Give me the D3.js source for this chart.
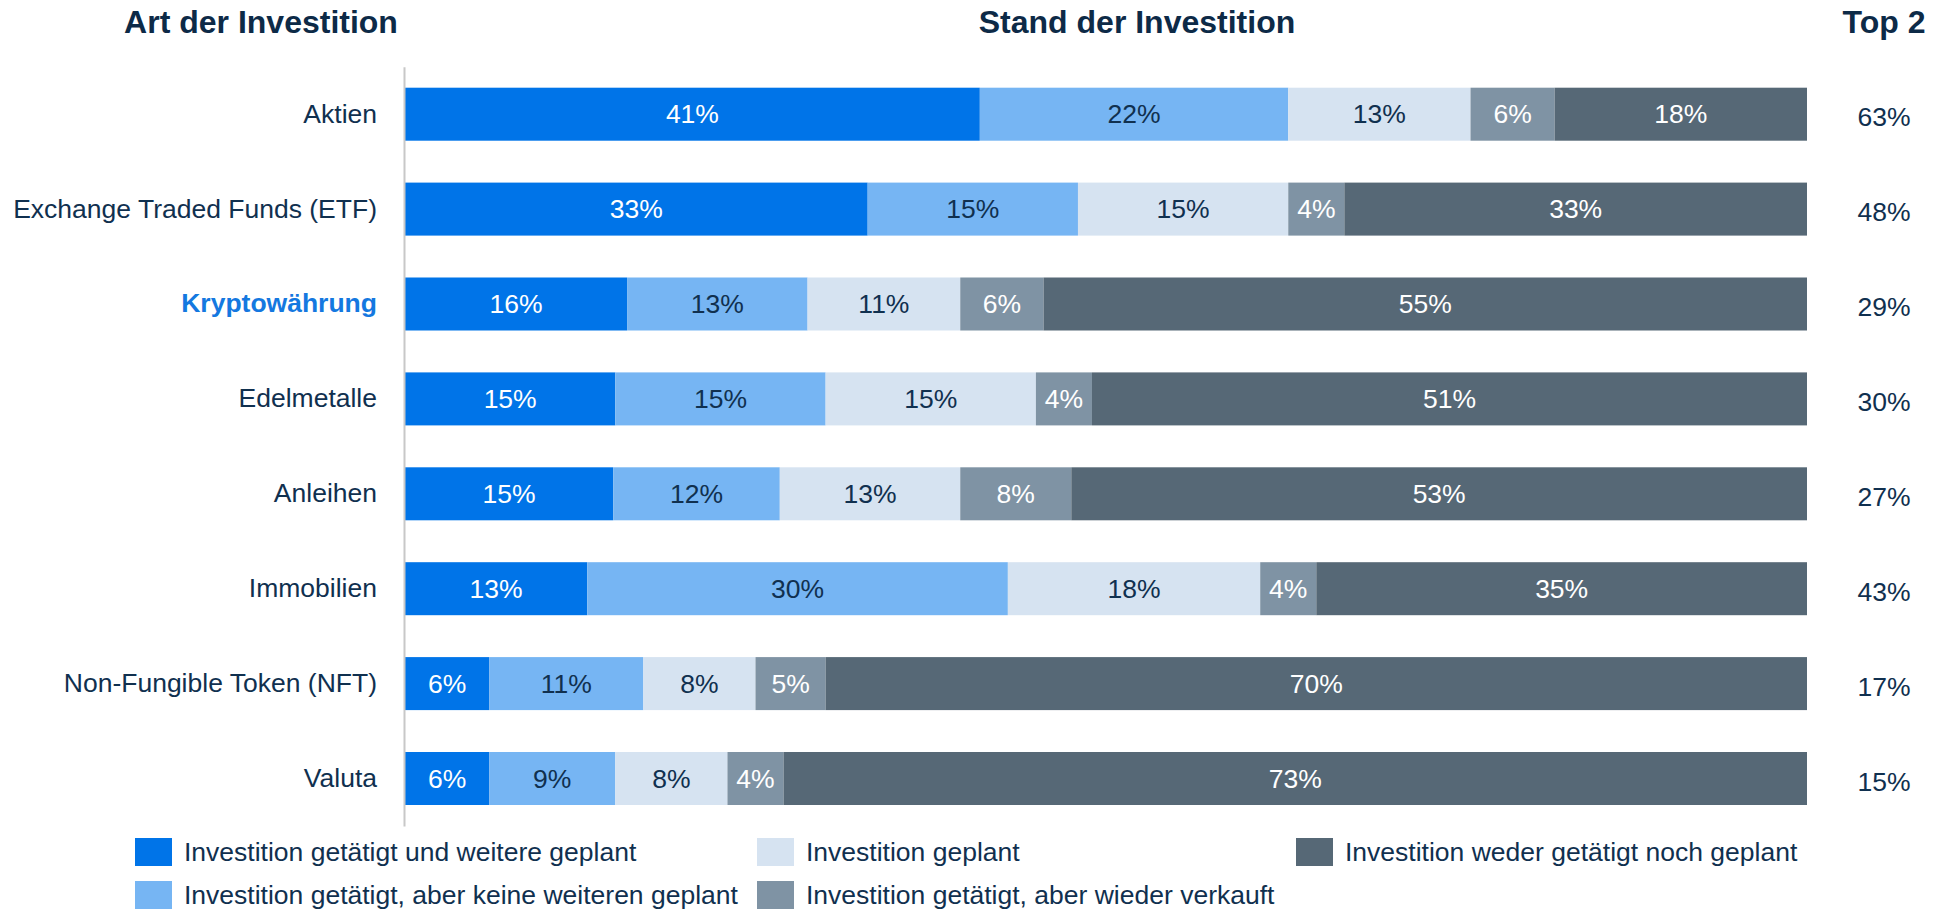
<!DOCTYPE html>
<html>
<head>
<meta charset="utf-8">
<script src="https://cdn.jsdelivr.net/npm/d3@7"></script>
<style>
  html, body { margin: 0; padding: 0; background: #ffffff; }
  svg { display: block; font-family: "Liberation Sans", Arial, sans-serif; }
</style>
</head>
<body>
<svg id="chart" width="1939" height="912"></svg>
<script>
// ---- Data ----
const categories = ["Aktien", "Exchange Traded Funds (ETF)", "Kryptowährung", "Edelmetalle",
                    "Anleihen", "Immobilien", "Non-Fungible Token (NFT)", "Valuta"];
const highlighted = ["Kryptowährung"];
const seriesNames = [
  "Investition getätigt und weitere geplant",
  "Investition getätigt, aber keine weiteren geplant",
  "Investition geplant",
  "Investition getätigt, aber wieder verkauft",
  "Investition weder getätigt noch geplant"
];
const getaetigtWeitere  = [41, 33, 16, 15, 15, 13, 6, 6];
const getaetigtKeine    = [22, 15, 13, 15, 12, 30, 11, 9];
const geplant           = [13, 15, 11, 15, 13, 18, 8, 8];
const verkauft          = [6, 4, 6, 4, 8, 4, 5, 4];
const wederNoch         = [18, 33, 55, 51, 53, 35, 70, 73];
const top2              = [63, 48, 29, 30, 27, 43, 17, 15];
const headers = ["Art der Investition", "Stand der Investition", "Top 2"];

const seriesValues = [getaetigtWeitere, getaetigtKeine, geplant, verkauft, wederNoch];
const colors = ["#0074E8", "#76B5F3", "#D6E3F1", "#7F93A4", "#566876"];
const labelColors = ["#ffffff", "#10304F", "#10304F", "#ffffff", "#ffffff"];
const textColor = "#10304F";
const fs = 26.5;

// ---- Build table ----
const rows = categories.map((c, i) => {
  const r = { category: c };
  seriesNames.forEach((s, j) => r[s] = seriesValues[j][i]);
  return r;
});

const stack = d3.stack().keys(seriesNames).offset(d3.stackOffsetExpand);
const stacked = stack(rows);

const svg = d3.select("#chart");

const x = d3.scaleLinear().domain([0, 1]).range([405, 1807]);
const y = d3.scaleBand().domain(categories)
  .range([66.75, 825.95]).paddingInner(0.4415).paddingOuter(0.22075);

// ---- Headers ----
const headerX = [261, 1137, 1884];
svg.selectAll("text.header").data(headers).join("text")
  .attr("class", "header")
  .attr("x", (d, i) => headerX[i])
  .attr("y", 33)
  .attr("text-anchor", "middle")
  .attr("font-size", 32)
  .attr("font-weight", "bold")
  .attr("fill", "#0D2A47")
  .text(d => d);

// ---- Bars ----
const g = svg.append("g");
const layer = g.selectAll("g.layer").data(stacked).join("g")
  .attr("class", "layer")
  .attr("fill", (d, i) => colors[i]);

layer.selectAll("rect").data(d => d).join("rect")
  .attr("x", d => x(d[0]))
  .attr("width", d => x(d[1]) - x(d[0]))
  .attr("y", d => y(d.data.category))
  .attr("height", y.bandwidth());

// value labels
stacked.forEach((s, si) => {
  g.append("g").selectAll("text").data(s).join("text")
    .attr("x", d => (x(d[0]) + x(d[1])) / 2)
    .attr("y", d => y(d.data.category) + y.bandwidth() / 2)
    .attr("dy", "0.35em")
    .attr("text-anchor", "middle")
    .attr("font-size", fs)
    .attr("fill", labelColors[si])
    .text(d => d.data[s.key] + "%");
});

// ---- Axis line (y axis) ----
const yAxis = d3.axisLeft(y).tickSize(0).tickPadding(27);
const axisG = svg.append("g").attr("transform", "translate(404,0)").call(yAxis);
axisG.select(".domain").attr("stroke", "#C8C8C8").attr("stroke-width", 2);
axisG.selectAll(".tick text")
  .attr("font-size", fs)
  .attr("font-family", "'Liberation Sans', Arial, sans-serif")
  .attr("fill", d => highlighted.includes(d) ? "#1478E0" : textColor)
  .attr("font-weight", d => highlighted.includes(d) ? "bold" : "normal");

// ---- Top 2 ----
svg.append("g").selectAll("text").data(categories).join("text")
  .attr("x", 1884)
  .attr("y", d => y(d) + y.bandwidth() / 2 + 3)
  .attr("dy", "0.35em")
  .attr("text-anchor", "middle")
  .attr("font-size", fs)
  .attr("fill", textColor)
  .text((d, i) => top2[i] + "%");

// ---- Legend ----
const legendColX = [135, 757, 1296];
const legendRowY = [838, 881];
const legend = svg.append("g").selectAll("g").data(seriesNames).join("g")
  .attr("transform", (d, i) => `translate(${legendColX[Math.floor(i / 2)]},${legendRowY[i % 2]})`);
legend.append("rect")
  .attr("width", 37).attr("height", 28)
  .attr("fill", (d, i) => colors[i]);
legend.append("text")
  .attr("x", 49).attr("y", 14).attr("dy", "0.35em")
  .attr("font-size", fs)
  .attr("fill", textColor)
  .text(d => d);
</script>
</body>
</html>
